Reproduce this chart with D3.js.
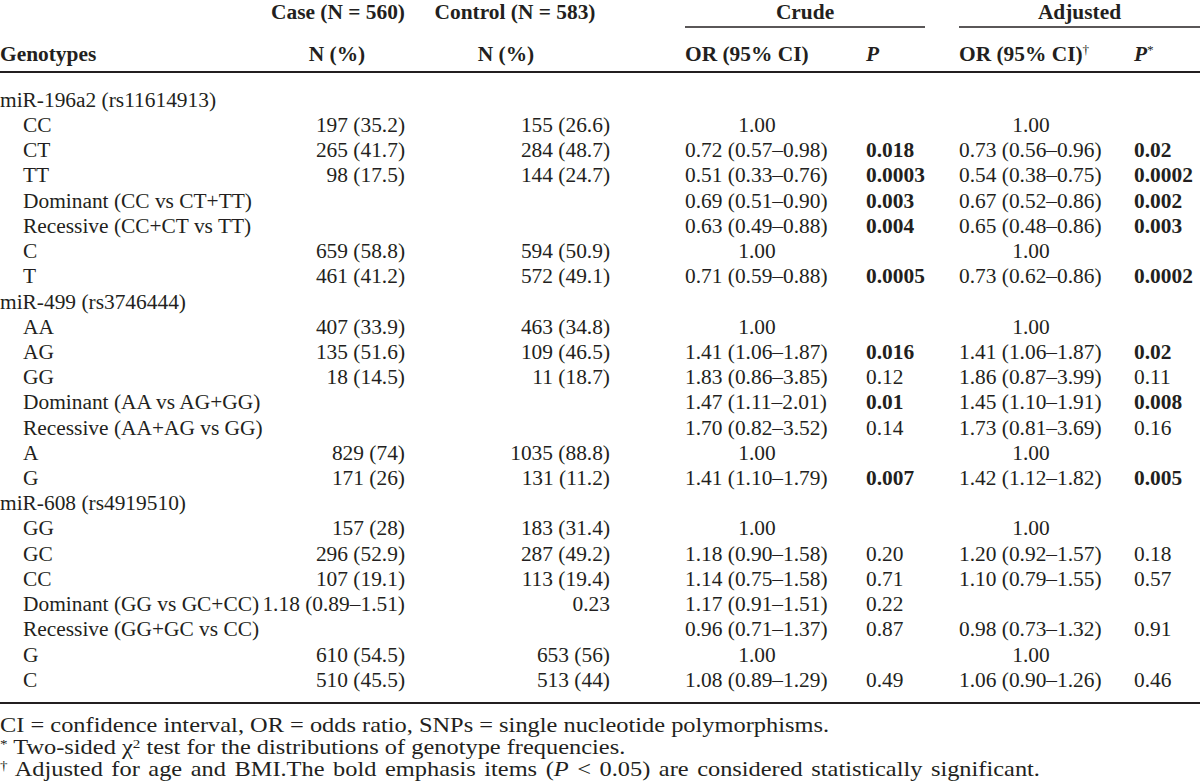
<!DOCTYPE html>
<html><head><meta charset="utf-8">
<script src="https://cdn.jsdelivr.net/npm/d3@7"></script>
<style>body{margin:0;background:#fff}svg{display:block}</style>
</head><body>
<svg id="chart" width="1200" height="783"></svg>
<script>
// ---------- data ----------
const rowLabels = [
  "miR-196a2 (rs11614913)","CC","CT","TT","Dominant (CC vs CT+TT)","Recessive (CC+CT vs TT)","C","T",
  "miR-499 (rs3746444)","AA","AG","GG","Dominant (AA vs AG+GG)","Recessive (AA+AG vs GG)","A","G",
  "miR-608 (rs4919510)","GG","GC","CC","Dominant (GG vs GC+CC)","Recessive (GG+GC vs CC)","G","C"
];
const groupRows = [0, 8, 16];
const caseValues = ["","197 (35.2)","265 (41.7)","98 (17.5)","","","659 (58.8)","461 (41.2)",
  "","407 (33.9)","135 (51.6)","18 (14.5)","","","829 (74)","171 (26)",
  "","157 (28)","296 (52.9)","107 (19.1)","1.18 (0.89–1.51)","","610 (54.5)","510 (45.5)"];
const controlValues = ["","155 (26.6)","284 (48.7)","144 (24.7)","","","594 (50.9)","572 (49.1)",
  "","463 (34.8)","109 (46.5)","11 (18.7)","","","1035 (88.8)","131 (11.2)",
  "","183 (31.4)","287 (49.2)","113 (19.4)","0.23","","653 (56)","513 (44)"];
const crudeOR = ["","1.00","0.72 (0.57–0.98)","0.51 (0.33–0.76)","0.69 (0.51–0.90)","0.63 (0.49–0.88)","1.00","0.71 (0.59–0.88)",
  "","1.00","1.41 (1.06–1.87)","1.83 (0.86–3.85)","1.47 (1.11–2.01)","1.70 (0.82–3.52)","1.00","1.41 (1.10–1.79)",
  "","1.00","1.18 (0.90–1.58)","1.14 (0.75–1.58)","1.17 (0.91–1.51)","0.96 (0.71–1.37)","1.00","1.08 (0.89–1.29)"];
const crudeP = ["","","0.018","0.0003","0.003","0.004","","0.0005",
  "","","0.016","0.12","0.01","0.14","","0.007",
  "","","0.20","0.71","0.22","0.87","","0.49"];
const adjustedOR = ["","1.00","0.73 (0.56–0.96)","0.54 (0.38–0.75)","0.67 (0.52–0.86)","0.65 (0.48–0.86)","1.00","0.73 (0.62–0.86)",
  "","1.00","1.41 (1.06–1.87)","1.86 (0.87–3.99)","1.45 (1.10–1.91)","1.73 (0.81–3.69)","1.00","1.42 (1.12–1.82)",
  "","1.00","1.20 (0.92–1.57)","1.10 (0.79–1.55)","","0.98 (0.73–1.32)","1.00","1.06 (0.90–1.26)"];
const adjustedP = ["","","0.02","0.0002","0.002","0.003","","0.0002",
  "","","0.02","0.11","0.008","0.16","","0.005",
  "","","0.18","0.57","","0.91","","0.46"];
const footnotes = [
  "CI = confidence interval, OR = odds ratio, SNPs = single nucleotide polymorphisms.",
  "Two-sided χ2 test for the distributions of genotype frequencies.",
  "Adjusted for age and BMI.The bold emphasis items (P < 0.05) are considered statistically significant."
];

// ---------- layout ----------
const W = 1200, H = 783;
const FS = 20, SX = 1.07, FN_FS = 20, FN_SX = 1.22, INK = "#231f20";
const svg = d3.select("#chart");
svg.append("rect").attr("width", W).attr("height", H).attr("fill", "#fff");

const y = d3.scalePoint().domain(d3.range(rowLabels.length)).range([100, 680]);
const colX = d3.scaleOrdinal()
  .domain(["label","sub","caseR","controlR","crudeL","crudeC","crudeP","adjL","adjC","adjP"])
  .range([0, 23, 405, 610, 685, 757, 866, 959, 1031, 1134]);

function txt(g, x, yc, str, anchor, opt = {}) {
  const fs = opt.size || FS, sx = opt.sx || SX;
  const t = g.append("text")
    .attr("transform", `translate(${x},${yc + fs * 0.34}) scale(${sx},1)`)
    .attr("text-anchor", anchor)
    .attr("font-family", "'Liberation Serif','Times New Roman',serif")
    .attr("font-size", fs)
    .attr("font-weight", opt.bold ? "bold" : "normal")
    .attr("font-style", opt.italic ? "italic" : "normal")
    .attr("fill", INK);
  if (opt.ws) t.attr("word-spacing", opt.ws);
  if (str !== null) t.text(str);
  return t;
}
function sup(t, s, fs = FS) {
  t.append("tspan").attr("baseline-shift", "super").attr("font-size", fs * 0.62)
    .attr("font-weight", "normal").attr("font-style", "normal").text(s);
}

// ---------- header ----------
const hd = svg.append("g");
txt(hd, 338, 12, "Case (N = 560)", "middle", {bold: true});
txt(hd, 515, 12, "Control (N = 583)", "middle", {bold: true});
txt(hd, (685 + 925) / 2, 12, "Crude", "middle", {bold: true});
txt(hd, (959 + 1200) / 2, 12, "Adjusted", "middle", {bold: true});
hd.append("line").attr("x1", 685).attr("x2", 925).attr("y1", 27).attr("y2", 27).attr("stroke", INK).attr("stroke-width", 1.3);
hd.append("line").attr("x1", 959).attr("x2", 1200).attr("y1", 27).attr("y2", 27).attr("stroke", INK).attr("stroke-width", 1.3);
txt(hd, colX("label"), 54, "Genotypes", "start", {bold: true});
txt(hd, 337, 54, "N (%)", "middle", {bold: true});
txt(hd, 506, 54, "N (%)", "middle", {bold: true});
txt(hd, colX("crudeL"), 54, "OR (95% CI)", "start", {bold: true});
txt(hd, colX("crudeP"), 54, "P", "start", {bold: true, italic: true});
sup(txt(hd, colX("adjL"), 54, "OR (95% CI)", "start", {bold: true}), "†");
sup(txt(hd, colX("adjP"), 54, "P", "start", {bold: true, italic: true}), "*");
hd.append("line").attr("x1", 0).attr("x2", W).attr("y1", 72).attr("y2", 72).attr("stroke", INK).attr("stroke-width", 2);

// ---------- body ----------
const body = svg.append("g");
const isSig = s => s !== "" && +s < 0.05;
rowLabels.forEach((lab, i) => {
  const yc = y(i);
  const isGroup = groupRows.includes(i);
  txt(body, isGroup ? colX("label") : colX("sub"), yc, lab, "start");
  if (caseValues[i]) txt(body, colX("caseR"), yc, caseValues[i], "end");
  if (controlValues[i]) txt(body, colX("controlR"), yc, controlValues[i], "end");
  if (crudeOR[i]) {
    if (crudeOR[i] === "1.00") txt(body, colX("crudeC"), yc, crudeOR[i], "middle");
    else txt(body, colX("crudeL"), yc, crudeOR[i], "start");
  }
  if (crudeP[i]) txt(body, colX("crudeP"), yc, crudeP[i], "start", {bold: isSig(crudeP[i])});
  if (adjustedOR[i]) {
    if (adjustedOR[i] === "1.00") txt(body, colX("adjC"), yc, adjustedOR[i], "middle");
    else txt(body, colX("adjL"), yc, adjustedOR[i], "start");
  }
  if (adjustedP[i]) txt(body, colX("adjP"), yc, adjustedP[i], "start", {bold: isSig(adjustedP[i])});
});
body.append("line").attr("x1", 0).attr("x2", W).attr("y1", 703).attr("y2", 703).attr("stroke", INK).attr("stroke-width", 2);

// ---------- footnotes ----------
const fn = svg.append("g");
const fy = [725, 747, 769];
const fo = {size: FN_FS, sx: FN_SX};
txt(fn, 0, fy[0], footnotes[0], "start", fo);
{
  const t = txt(fn, 0, fy[1], null, "start", fo);
  sup(t, "*", FN_FS);
  const parts = footnotes[1].split("χ2");
  t.append("tspan").text(" " + parts[0] + "χ");
  sup(t, "2", FN_FS);
  t.append("tspan").text(parts[1]);
}
{
  const t = txt(fn, 0, fy[2], null, "start", Object.assign({ws: 2}, fo));
  sup(t, "†", FN_FS);
  const [a, b] = footnotes[2].split("(P");
  t.append("tspan").text(" " + a + "(");
  t.append("tspan").attr("font-style", "italic").text("P");
  t.append("tspan").text(b);
}
</script>
</body></html>
